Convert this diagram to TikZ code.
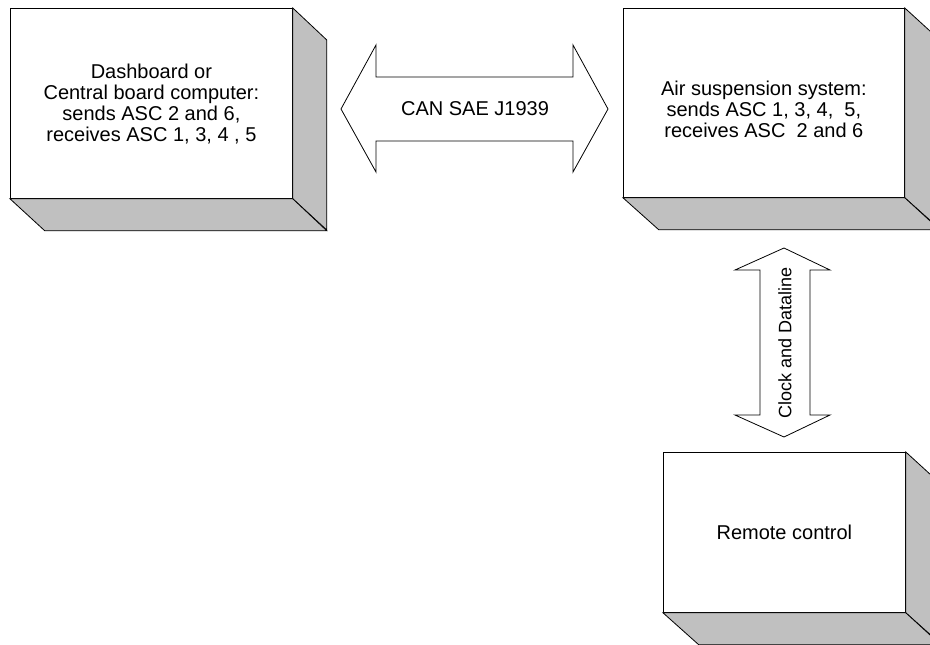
\documentclass[tikz,border=0pt]{standalone}
\usepackage{fontspec}
\setmainfont{Liberation Sans}
\definecolor{sidegray}{HTML}{C0C0C0}
\tikzset{
  front/.style={draw=black, fill=white, line width=0.8pt, inner sep=0pt, anchor=north west, align=center,
    font=\fontsize{20}{21}\selectfont},
  side/.style={draw=black, fill=sidegray, line width=0.8pt, line join=miter},
  blockarrow/.style={draw=black, fill=white, line width=0.8pt, line join=miter},
  lbl/.style={font=\fontsize{20}{21}\selectfont, inner sep=0pt}
}
\begin{document}
\begin{tikzpicture}[x=1pt,y=-1pt]
\useasboundingbox (0,0) rectangle (930,645);
\clip (0,0) rectangle (930,645);
% box 1
\node[front, minimum width=282pt, minimum height=190pt] (dash) at (10,8) {};
\draw[side] (dash.north east) -- ++(34,32) -- ++(0,190) -- (dash.south east) -- cycle;
\draw[side] (dash.south west) -- (dash.south east) -- ++(34,32) -- ++(-282,0) -- cycle;
\node[lbl, align=center] (dashtxt) at ([yshift=-1pt]dash.center) {Dashboard or\\Central board computer:\\sends ASC 2 and 6,\\receives ASC 1, 3, 4 , 5};
% box 2
\node[front, minimum width=281pt, minimum height=189pt] (air) at (623,8) {};
\draw[side] (air.north east) -- ++(35,32) -- ++(0,189) -- (air.south east) -- cycle;
\draw[side] (air.south west) -- (air.south east) -- ++(35,32) -- ++(-281,0) -- cycle;
\node[lbl, align=center] (airtxt) at ([yshift=-6pt]air.center) {Air suspension system:\\sends ASC 1, 3, 4, ~5,\\receives ASC ~2 and 6};
% box 3
\node[front, minimum width=242pt, minimum height=160pt] (rc) at (663,452) {};
\draw[side] (rc.north east) -- ++(35,32) -- ++(0,160) -- (rc.south east) -- cycle;
\draw[side] (rc.south west) -- (rc.south east) -- ++(35,32) -- ++(-242,0) -- cycle;
\node[lbl] (rctxt) at (rc.center) {Remote control};
% CAN arrow
\draw[blockarrow] (341,109) -- (376,45) -- (376,77) -- (573,77) -- (573,45) -- (608,109)
  -- (573,172) -- (573,141) -- (376,141) -- (376,172) -- cycle;
\node[lbl] (can) at (475,109) {CAN SAE J1939};
% vertical arrow
\draw[blockarrow] (784,248) -- (830,270) -- (810,270) -- (810,415) -- (830,415) -- (784,437)
  -- (735,415) -- (760,415) -- (760,270) -- (735,270) -- cycle;
\node[lbl, rotate=90, font=\fontsize{18}{20}\selectfont] (clk) at (785,343) {Clock and Dataline};
\end{tikzpicture}
\end{document}
